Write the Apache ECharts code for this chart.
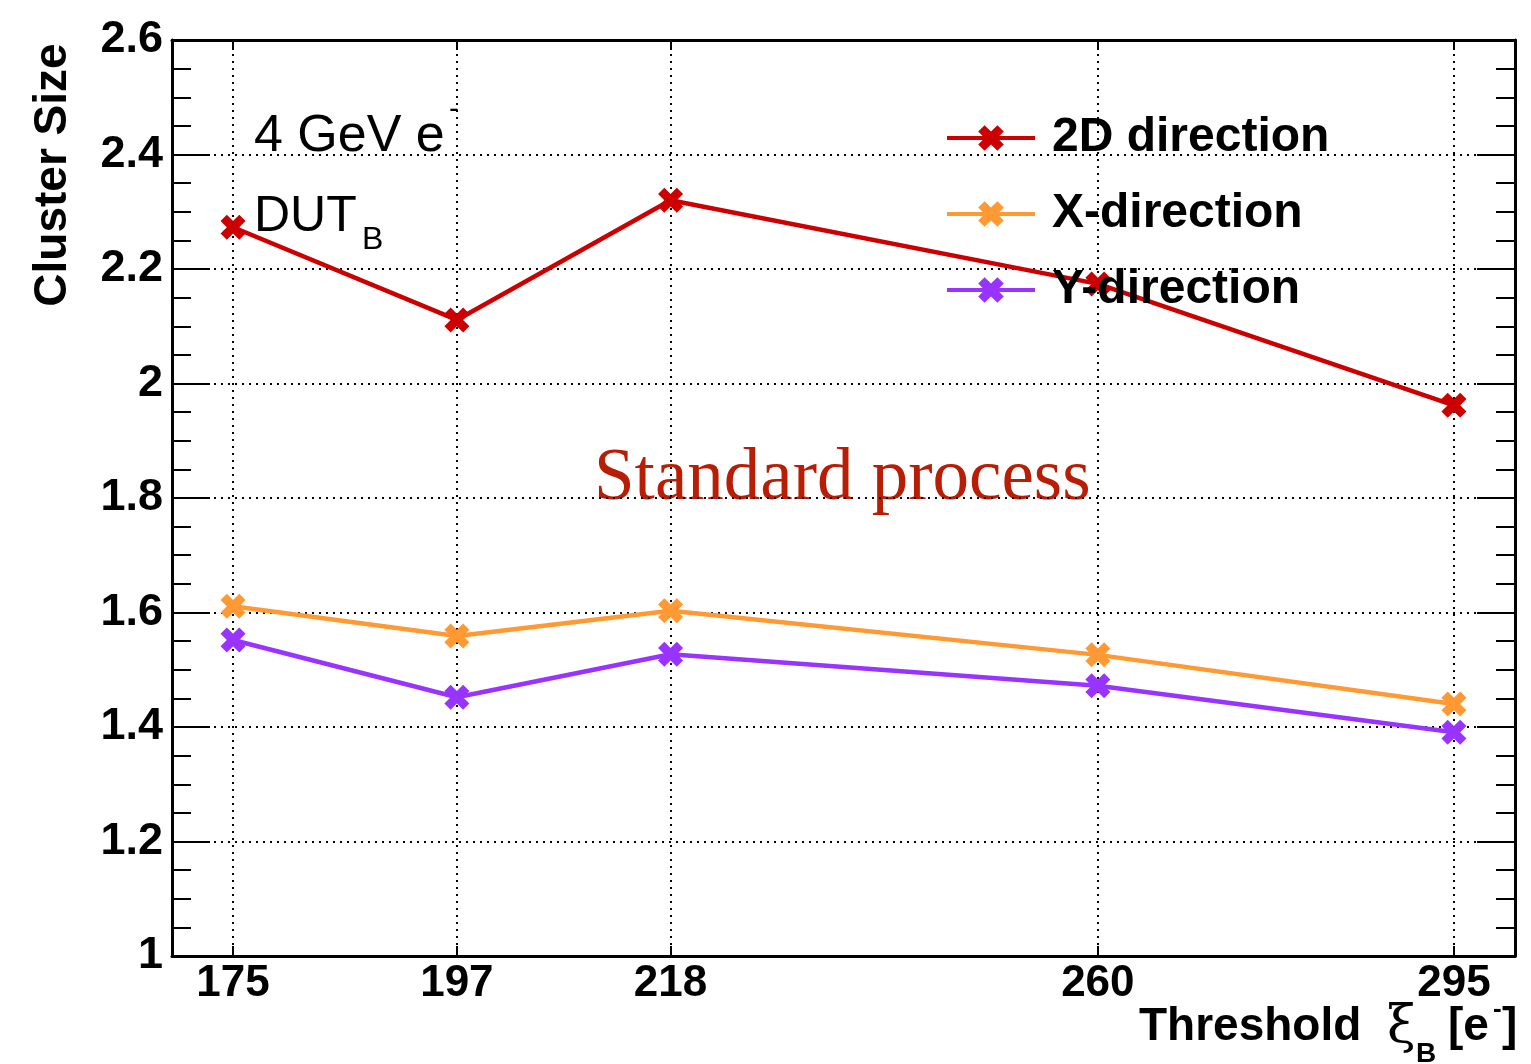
<!DOCTYPE html>
<html>
<head>
<meta charset="utf-8">
<script src="https://cdn.jsdelivr.net/npm/echarts@6/dist/echarts.min.js"></script>
<style>
  html, body { margin: 0; padding: 0; background: #fff; }
  #chart { width: 1531px; height: 1064px; }
</style>
</head>
<body>
<div id="chart"></div>
<script>
// Threshold settings (electrons) and measured mean cluster sizes
const thresholds = [175, 197, 218, 260, 295];
const size2D = [2.273, 2.111, 2.320, 2.174, 1.962];
const sizeX  = [1.611, 1.559, 1.603, 1.526, 1.440];
const sizeY  = [1.552, 1.452, 1.527, 1.472, 1.391];
const seriesNames = ['2D direction', 'X-direction', 'Y-direction'];
const seriesColors = ['#CC0000', '#FF9933', '#9933FF'];

// Bold "x" marker
const fatCross = 'path://M2.5,0 L5,2.5 L7.5,0 L10,2.5 L7.5,5 L10,7.5 L7.5,10 L5,7.5 L2.5,10 L0,7.5 L2.5,5 L0,2.5 Z';

const SANS = '"Liberation Sans", Helvetica, Arial, sans-serif';
const dotted = { color: '#000', width: 2, type: [2, 5] };

function pairs(xs, ys) { return xs.map((x, i) => [x, ys[i]]); }

function lineSeries(name, values, color) {
  return {
    name: name,
    type: 'line',
    data: pairs(thresholds, values),
    symbol: fatCross,
    symbolSize: 25,
    color: color,
    lineStyle: { width: 4.5, color: color },
    itemStyle: { color: color },
    emphasis: { disabled: true },
    animation: false,
    z: 3
  };
}

const chart = echarts.init(document.getElementById('chart'), null, { renderer: 'canvas' });

const option = {
  backgroundColor: '#fff',
  animation: false,
  grid: { left: 172, right: 16, top: 40, bottom: 108, containLabel: false },
  xAxis: [
    {
      type: 'value', position: 'bottom', min: 169, max: 301,
      axisLine: { show: true, onZero: false, lineStyle: { color: '#000', width: 3 } },
      axisTick: { show: true, inside: true, length: 10, customValues: thresholds, lineStyle: { color: '#000', width: 2 } },
      axisLabel: { show: true, customValues: thresholds, margin: 6, color: '#000',
                   fontFamily: SANS, fontWeight: 'bold', fontSize: 44 },
      splitLine: { show: true, lineStyle: dotted }
    },
    {
      type: 'value', position: 'top', min: 169, max: 301,
      axisLine: { show: true, onZero: false, lineStyle: { color: '#000', width: 3 } },
      axisTick: { show: true, inside: true, length: 10, customValues: thresholds, lineStyle: { color: '#000', width: 2 } },
      axisLabel: { show: false },
      splitLine: { show: false }
    }
  ],
  yAxis: [
    {
      type: 'value', position: 'left', min: 1, max: 2.6, interval: 0.2,
      axisLine: { show: true, onZero: false, lineStyle: { color: '#000', width: 3 } },
      axisTick: { show: true, inside: true, length: 38, lineStyle: { color: '#000', width: 2 } },
      minorTick: { show: true, splitNumber: 4, length: 19, lineStyle: { color: '#000', width: 2 } },
      axisLabel: { show: true, margin: 9, color: '#000', fontFamily: SANS, fontWeight: 'bold', fontSize: 45,
                   formatter: v => String(parseFloat(v.toFixed(1))) },
      splitLine: { show: true, lineStyle: dotted }
    },
    {
      type: 'value', position: 'right', min: 1, max: 2.6, interval: 0.2,
      axisLine: { show: true, onZero: false, lineStyle: { color: '#000', width: 3 } },
      axisTick: { show: true, inside: true, length: 38, lineStyle: { color: '#000', width: 2 } },
      minorTick: { show: true, splitNumber: 4, length: 19, lineStyle: { color: '#000', width: 2 } },
      axisLabel: { show: false },
      splitLine: { show: false }
    }
  ],
  legend: {
    orient: 'vertical',
    left: 945, top: 110,
    padding: 0,
    itemWidth: 88, itemHeight: 32, itemGap: 20,
    data: seriesNames,
    selectedMode: false,
    lineStyle: { width: 4 },
    textStyle: { color: '#000', fontFamily: SANS, fontWeight: 'bold', fontSize: 48, lineHeight: 56,
                 padding: [0, 0, 0, 12] }
  },
  series: [
    lineSeries(seriesNames[0], size2D, seriesColors[0]),
    lineSeries(seriesNames[1], sizeX, seriesColors[1]),
    lineSeries(seriesNames[2], sizeY, seriesColors[2])
  ],
  graphic: [
    // y-axis title
    { type: 'text', x: 53, y: 175, rotation: Math.PI / 2,
      style: { text: 'Cluster Size', font: 'bold 46px ' + SANS, fill: '#000', align: 'center', verticalAlign: 'middle' } },
    // x-axis title
    { type: 'text', x: 1139, y: 1027,
      style: { text: 'Threshold', font: 'bold 46px ' + SANS, fill: '#000', align: 'left', verticalAlign: 'middle' } },
    { type: 'text', x: 1387, y: 1028,
      style: { text: 'ξ', font: '52px "DejaVu Serif", serif', fill: '#000', align: 'left', verticalAlign: 'middle' } },
    { type: 'text', x: 1416, y: 1054,
      style: { text: 'B', font: 'bold 28px ' + SANS, fill: '#000', align: 'left', verticalAlign: 'middle' } },
    { type: 'text', x: 1448, y: 1027,
      style: { text: '[e', font: 'bold 46px ' + SANS, fill: '#000', align: 'left', verticalAlign: 'middle' } },
    { type: 'text', x: 1493, y: 1010,
      style: { text: '-', font: 'bold 26px ' + SANS, fill: '#000', align: 'left', verticalAlign: 'middle' } },
    { type: 'text', x: 1502, y: 1027,
      style: { text: ']', font: 'bold 46px ' + SANS, fill: '#000', align: 'left', verticalAlign: 'middle' } },
    // beam / device annotation
    { type: 'text', x: 254, y: 137,
      style: { text: '4 GeV e', font: '52px ' + SANS, fill: '#000', align: 'left', verticalAlign: 'middle' } },
    { type: 'text', x: 449, y: 110,
      style: { text: '-', font: '30px ' + SANS, fill: '#000', align: 'left', verticalAlign: 'middle' } },
    { type: 'text', x: 254, y: 217,
      style: { text: 'DUT', font: '50px ' + SANS, fill: '#000', align: 'left', verticalAlign: 'middle' } },
    { type: 'text', x: 362, y: 240,
      style: { text: 'B', font: '32px ' + SANS, fill: '#000', align: 'left', verticalAlign: 'middle' } },
    // process label
    { type: 'text', x: 594, y: 480,
      style: { text: 'Standard process', font: '73px "Liberation Serif", "Times New Roman", serif', fill: '#B81E05',
               align: 'left', verticalAlign: 'middle' } }
  ]
};

chart.setOption(option);
</script>
</body>
</html>
